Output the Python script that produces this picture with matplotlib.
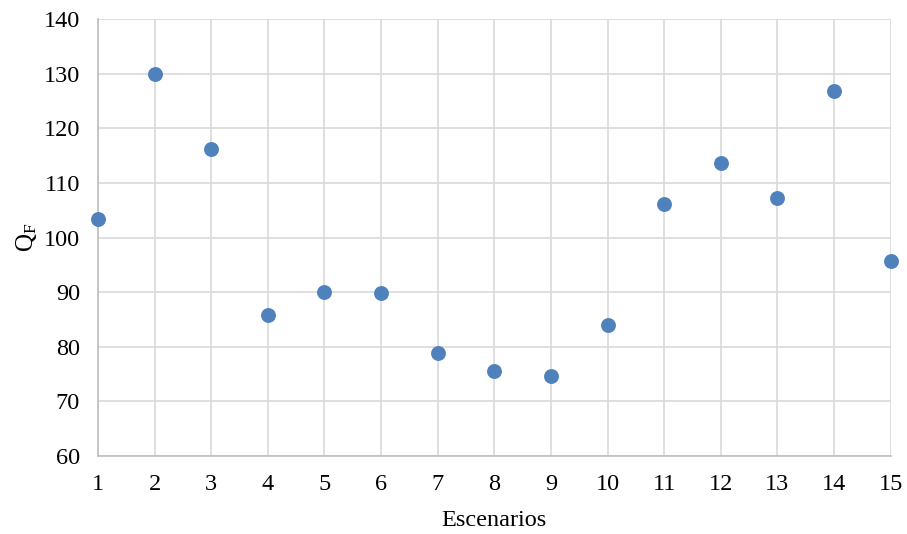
import matplotlib
matplotlib.use("Agg")
import matplotlib.pyplot as plt

plt.rcParams['font.family'] = ['Liberation Serif', 'DejaVu Serif']
plt.rcParams['mathtext.fontset'] = 'custom'
plt.rcParams['mathtext.rm'] = 'Liberation Serif'
plt.rcParams['mathtext.it'] = 'Liberation Serif'

escenarios = list(range(1, 16))
q_f = [103.5, 130.0, 116.2, 85.8, 90.0, 89.9, 78.9, 75.5, 74.7, 84.0,
       106.1, 113.6, 107.3, 126.8, 95.8]
y_ticks = [60, 70, 80, 90, 100, 110, 120, 130, 140]

fig = plt.figure(figsize=(9.07, 5.34), dpi=100)
ax = fig.add_axes([0.108, 0.146, 0.874, 0.818])

ax.scatter(escenarios, q_f, s=115, color='#4F81BD', zorder=3, linewidths=0,
           clip_on=False)

ax.set_xlim(1, 15)
ax.set_ylim(60, 140)
ax.set_xticks(escenarios)
ax.set_yticks(y_ticks)
ax.grid(True, color='#D9D9D9', linewidth=1.2, zorder=0)
for side in ['top', 'right']:
    ax.spines[side].set_visible(False)
for side in ['left', 'bottom']:
    ax.spines[side].set_color('#BFBFBF')
    ax.spines[side].set_linewidth(1.2)
ax.tick_params(axis='y', length=0, labelsize=17.5, pad=13)
ax.tick_params(axis='x', length=0, labelsize=17.5, pad=13)
ax.set_xlabel('Escenarios', fontsize=17.5, labelpad=11)
ax.set_ylabel(r'$\mathrm{Q_F}$', fontsize=18, labelpad=3)

fig.savefig('out.png', dpi=100)
